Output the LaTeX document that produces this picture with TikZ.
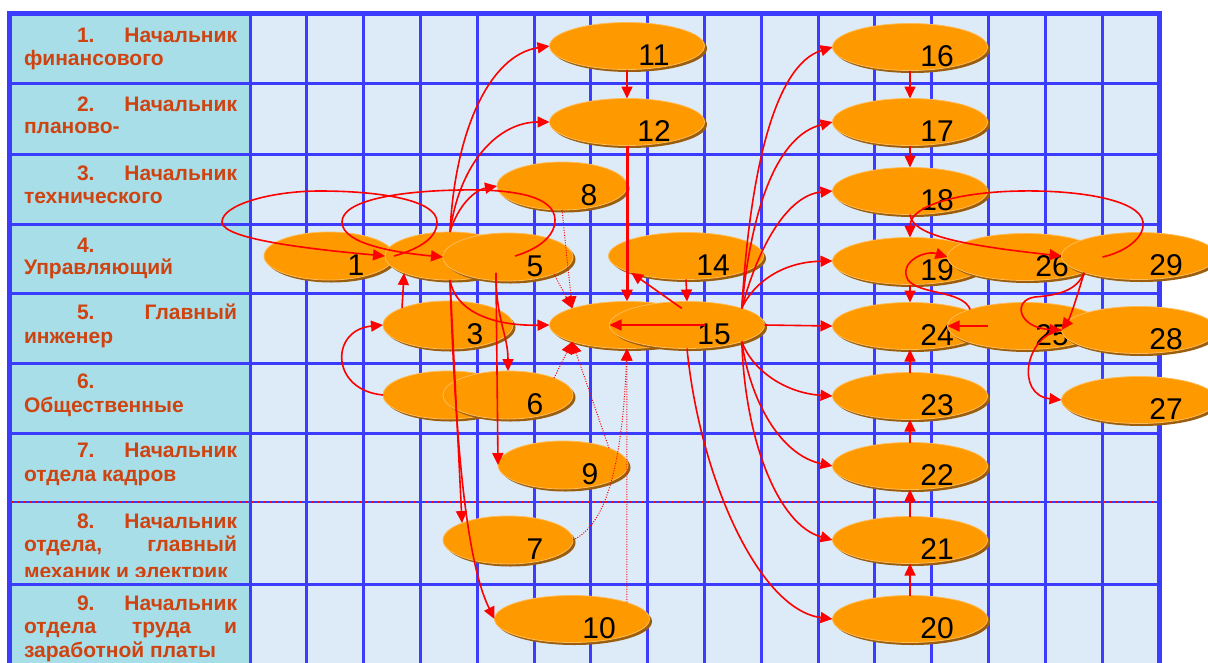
\documentclass[tikz,border=0pt]{standalone}
\usepackage{fontspec}
\setmainfont{Liberation Sans}
\usetikzlibrary{arrows.meta,shapes.geometric,shadows,calc}
\definecolor{gridblue}{HTML}{3C3CFF}
\definecolor{cellbg}{HTML}{DDEBF8}
\definecolor{labbg}{HTML}{A8DEE8}
\definecolor{labtxt}{HTML}{CF4311}
\definecolor{ellfill}{HTML}{FF9900}
\definecolor{ellshadow}{HTML}{9A5E0E}
\definecolor{ellrim}{HTML}{FFBB55}
\definecolor{arrred}{HTML}{FF0000}
\newcommand\ellnum[1]{\raisebox{-19.5pt}[0pt][0pt]{\makebox[0pt]{\hspace{54pt}#1}}}
\begin{document}
\begin{tikzpicture}[x=1pt,y=-1pt,
  lab/.style={inner sep=0pt,outer sep=0pt,text=labtxt,font=\fontsize{21}{25}\selectfont\bfseries},
  ell/.style={ellipse,fill=ellfill,draw=ellrim,line width=0.8pt,inner sep=0pt,outer sep=0pt,
     drop shadow={shadow xshift=2.5pt,shadow yshift=-2.5pt,fill=ellshadow,draw=none,opacity=1},
     font=\fontsize{30}{30}\selectfont},
  sm/.style={ell,minimum width=130pt,minimum height=48pt},
  lg/.style={ell,minimum width=155pt,minimum height=47pt},
  arr/.style={draw=arrred,line width=1.6pt,-{Triangle[length=12pt,width=11pt]}},
  thickarr/.style={arr,line width=3pt},
  dotarr/.style={draw=arrred,line width=1pt,dash pattern=on 1pt off 1.5pt,-{Triangle[length=12pt,width=11pt]}},
  gridl/.style={draw=gridblue,line width=3pt},
]
\useasboundingbox (0,0) rectangle (1208,662);
\clip (0,0) rectangle (1208,662);
\fill[white] (0,0) rectangle (1208,662);
\fill[cellbg] (9,13) rectangle (1159,670);
\fill[labbg] (9,13) rectangle (250,670);
% grid
\foreach \yy in {83,154,224,293,363,433,584} \draw[gridl] (9,\yy) -- (1159,\yy);
\draw[draw=gridblue,line width=2pt] (9,502) -- (1159,502);
\draw[draw=arrred,line width=1.2pt,dash pattern=on 1.2pt off 1.8pt] (9,502) -- (1159,502);
\foreach \i in {0,...,15} \draw[gridl] ({250+56.8*\i},13) -- ({250+56.8*\i},670);
\draw[draw=gridblue,line width=5pt] (9,670) -- (9,13) -- (1159,13) -- (1159,670);
% labels
\node[lab,anchor=base west] (r1a) at (77,42) {1.};
\node[lab,anchor=base east] (r1b) at (237,42) {Начальник};
\node[lab,anchor=base west] (r1c) at (24,65) {финансового};
\node[lab,anchor=base west] (r2a) at (77,111) {2.};
\node[lab,anchor=base east] (r2b) at (237,111) {Начальник};
\node[lab,anchor=base west] (r2c) at (24,133) {планово-};
\node[lab,anchor=base west] (r3a) at (77,180) {3.};
\node[lab,anchor=base east] (r3b) at (237,180) {Начальник};
\node[lab,anchor=base west] (r3c) at (24,203) {технического};
\node[lab,anchor=base west] (r4a) at (77,252) {4.};
\node[lab,anchor=base west] (r4c) at (24,274) {Управляющий};
\node[lab,anchor=base west] (r5a) at (77,319) {5.};
\node[lab,anchor=base east] (r5b) at (237,319) {Главный};
\node[lab,anchor=base west] (r5c) at (24,343) {инженер};
\node[lab,anchor=base west] (r6a) at (77,388) {6.};
\node[lab,anchor=base west] (r6c) at (24,412) {Общественные};
\node[lab,anchor=base west] (r7a) at (77,457) {7.};
\node[lab,anchor=base east] (r7b) at (237,457) {Начальник};
\node[lab,anchor=base west] (r7c) at (24,481) {отдела кадров};
\node[lab,anchor=base west] (r8a) at (77,528) {8.};
\node[lab,anchor=base east] (r8b) at (237,528) {Начальник};
\node[lab,anchor=base west] (r8c) at (24,551) {отдела,};
\node[lab,anchor=base east] (r8d) at (237,551) {главный};
\begin{scope}
\clip (9,502) rectangle (251,576.5);
\node[lab,anchor=base west] (r8e) at (24,578) {механик и электрик};
\end{scope}
\node[lab,anchor=base west] (r9a) at (77,610) {9.};
\node[lab,anchor=base east] (r9b) at (237,610) {Начальник};
\node[lab,anchor=base west] (r9c) at (24,633) {отдела};
\node[lab,anchor=base west] (r9d) at (132,633) {труда};
\node[lab,anchor=base east] (r9e) at (237,633) {и};
\node[lab,anchor=base west] (r9f) at (24,657) {заработной платы};
% ellipses
\node[sm] (n1) at (329,256) {\ellnum{1}};
\node[sm] (n2) at (450,256) {\ellnum{2}};
\node[sm] (n5) at (508,257) {\ellnum{5}};
\node[sm] (n3) at (448,325) {\ellnum{3}};
\node[sm] (n4) at (448,395) {\ellnum{4}};
\node[sm] (n6) at (508,395) {\ellnum{6}};
\node[sm] (n8) at (562,186) {\ellnum{8}};
\node[sm] (n9) at (563,465) {\ellnum{9}};
\node[sm] (n7) at (508,540) {\ellnum{7}};
\node[lg] (n10) at (572,619) {\ellnum{10}};
\node[lg] (n11) at (627,46) {\ellnum{11}};
\node[lg] (n12) at (627,122) {\ellnum{12}};
\node[lg] (n13) at (627,325) {\ellnum{13}};
\node[lg] (n14) at (686,256) {\ellnum{14}};
\node[lg] (n15) at (687,325) {\ellnum{15}};
\node[lg] (n16) at (910,47) {\ellnum{16}};
\node[lg] (n17) at (910,122) {\ellnum{17}};
\node[lg] (n18) at (910,191) {\ellnum{18}};
\node[lg] (n19) at (910,261) {\ellnum{19}};
\node[lg] (n24) at (910,326) {\ellnum{24}};
\node[lg] (n23) at (910,396) {\ellnum{23}};
\node[lg] (n22) at (910,466) {\ellnum{22}};
\node[lg] (n21) at (910,540) {\ellnum{21}};
\node[lg] (n20) at (910,619) {\ellnum{20}};
\node[lg] (n26) at (1025,257) {\ellnum{26}};
\node[lg] (n29) at (1139,256) {\ellnum{29}};
\node[lg] (n25) at (1025,326) {\ellnum{25}};
\node[lg] (n28) at (1139,330) {\ellnum{28}};
\node[lg] (n27) at (1139,400) {\ellnum{27}};
% loops on the left
\draw[arr] (n1.east) .. controls (415,250) and (437,240) .. (437,222)
  .. controls (437,200) and (380,191) .. (320,191)
  .. controls (270,191) and (222,205) .. (222,222)
  .. controls (222,240) and (320,250) .. (n2.west);
\draw[arr] (n2.east) .. controls (535,250) and (555,238) .. (555,220)
  .. controls (555,195) and (510,189) .. (460,190)
  .. controls (400,191) and (342,200) .. (342,222)
  .. controls (342,245) and (400,253) .. (n5.west);
% hub 2
\draw[arr] (n2.north) .. controls (455,130) and (490,55) .. (n11.west);
\draw[arr] (n2.north) .. controls (460,160) and (500,122) .. (n12.west);
\draw[arr] (n2.north) .. controls (458,205) and (475,190) .. (n8.west);
\draw[arr] (n2.south) .. controls (455,310) and (490,326) .. (n13.west);
\draw[arr] (n2.south) -- (n7.north west);
\draw[arr] (n2.south) .. controls (455,430) and (465,560) .. (n10.west);
\draw[arr] (n2.south east) -- (n9.west);
\draw[arr] (n2.south east) .. controls (496,320) and (508,335) .. (n6.north);
\draw[arr] (n4.west) .. controls (330,390) and (330,330) .. (n3.west);
\draw[arr] (n3.north west) -- (n2.south west);
% column 627
\draw[arr] (n11.south) -- (n12.north);
\draw[thickarr] (n12.south) -- (n13.north);
\draw[arr] (n13.north east) -- (n14.south west);
\draw[arr] (n14.south) -- (n15.north);
\draw[arr] (n13.east) -- (n15.west);
% dotted into 13
\draw[dotarr] (n8.south) -- (n13.north west);
\draw[dotarr] (n5.south east) -- (n13.north west);
\draw[dotarr] (n6.north east) -- (n13.south west);
\draw[dotarr] (n9.north east) -- (n13.south west);
\draw[dotarr] (n7.east) .. controls (605,525) and (622,470) .. (n13.south);
\draw[dotarr] (n10.north east) -- (n13.south);
% fan from 15
\draw[arr] (n15.north east) .. controls (750,170) and (775,65) .. (n16.west);
\draw[arr] (n15.north east) .. controls (752,200) and (780,135) .. (n17.west);
\draw[arr] (n15.north east) .. controls (760,240) and (790,195) .. (n18.west);
\draw[arr] (n15.north east) .. controls (752,285) and (780,262) .. (n19.west);
\draw[arr] (n15.east) -- (n24.west);
\draw[arr] (n15.south east) .. controls (752,370) and (785,393) .. (n23.west);
\draw[arr] (n15.south east) .. controls (750,400) and (780,455) .. (n22.west);
\draw[arr] (n15.south east) .. controls (745,440) and (778,525) .. (n21.west);
\draw[arr] (n15.south) .. controls (700,480) and (760,610) .. (n20.west);
% column 910
\draw[arr] (n16.south) -- (n17.north);
\draw[arr] (n17.south) -- (n18.north);
\draw[arr] (n19.south) -- (n24.north);
\draw[arr] (n23.north) -- (n24.south);
\draw[arr] (n22.north) -- (n23.south);
\draw[arr] (n21.north) -- (n22.south);
\draw[arr] (n20.north) -- (n21.south);
% right cluster
\draw[arr] (n24.east) -- (n25.west);
\draw[arr] (n25.north west) .. controls (962,290) and (920,295) .. (908,280)
  .. controls (898,262) and (925,250) .. (n26.west);
\draw[arr] (n26.east) .. controls (1125,252) and (1145,238) .. (1143,222)
  .. controls (1140,200) and (1080,190) .. (1020,191)
  .. controls (960,192) and (910,205) .. (n19.north);
\draw[arr] (n18.south) .. controls (912,235) and (960,245) .. (n29.west);
\draw[arr] (n29.south west) .. controls (1077,290) and (1060,295) .. (1035,297)
  .. controls (1012,300) and (1018,328) .. (n28.west);
\draw[arr] (n29.south west) .. controls (1076,300) and (1070,318) .. (n28.west);
\draw[arr] (n28.west) .. controls (1025,335) and (1015,395) .. (n27.west);
\end{tikzpicture}
\end{document}
